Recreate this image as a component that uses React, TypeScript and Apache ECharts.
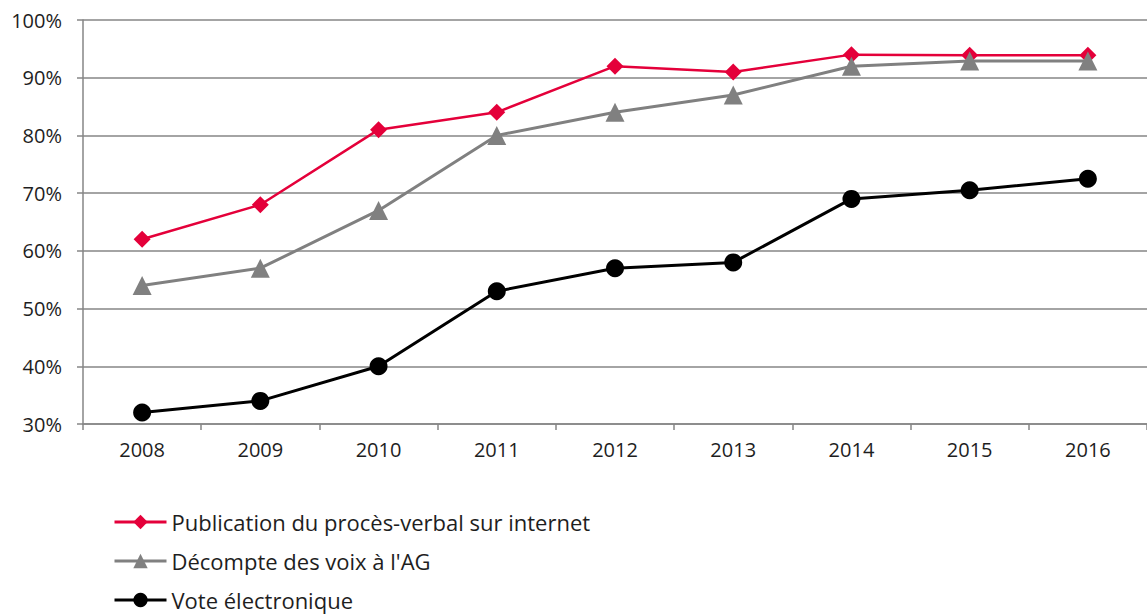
import React, { useEffect, useRef } from "react";
import * as echarts from "echarts";

const years = ["2008", "2009", "2010", "2011", "2012", "2013", "2014", "2015", "2016"];
const publication = [62, 68, 81, 84, 92, 91, 94, 93.9, 93.9];
const decompte = [54, 57, 67, 80, 84, 87, 92, 92.9, 92.9];
const vote = [32, 34, 40, 53, 57, 58, 69, 70.5, 72.5];
const seriesNames = [
  "Publication du procès-verbal sur internet",
  "Décompte des voix à l'AG",
  "Vote électronique",
];

const FONT = "'Open Sans', 'Liberation Sans', Arial, sans-serif";

export default function App() {
  const ref = useRef<HTMLDivElement>(null);
  useEffect(() => {
    if (!ref.current) return;
    const chart = echarts.init(ref.current, undefined, { renderer: "svg" });
    chart.setOption({
      animation: false,
      textStyle: { fontFamily: FONT },
      grid: { left: 83, right: 0, top: 20, bottom: 191, containLabel: false },
      xAxis: {
        type: "category",
        data: years,
        boundaryGap: true,
        axisLine: { lineStyle: { color: "#868686", width: 1.5 } },
        axisTick: { show: true, alignWithLabel: false, length: 6, lineStyle: { color: "#868686", width: 1.5 } },
        axisLabel: { color: "#1e1e1e", fontSize: 20, margin: 15, fontFamily: FONT },
        splitLine: { show: false },
      },
      yAxis: {
        type: "value",
        min: 30,
        max: 100,
        interval: 10,
        axisLine: { show: true, lineStyle: { color: "#868686", width: 1.5 } },
        axisTick: { show: true, length: 6, lineStyle: { color: "#868686", width: 1.5 } },
        axisLabel: { color: "#1e1e1e", fontSize: 20, margin: 21, formatter: "{value}%", fontFamily: FONT },
        splitLine: { show: true, lineStyle: { color: "#868686", width: 1.5 } },
      },
      legend: {
        orient: "vertical",
        left: 113,
        top: 509,
        height: 106,
        padding: 0,
        itemWidth: 52,
        itemHeight: 18,
        itemGap: 13,
        lineStyle: { width: 3 },
        textStyle: { fontSize: 22, lineHeight: 26, color: "#1e1e1e", fontFamily: FONT },
        data: seriesNames,
      },
      series: [
        {
          name: seriesNames[0],
          type: "line",
          data: publication,
          symbol: "diamond",
          symbolSize: 17,
          lineStyle: { color: "#E4003A", width: 2.5 },
          itemStyle: { color: "#E4003A" },
          z: 3,
        },
        {
          name: seriesNames[1],
          type: "line",
          data: decompte,
          symbol: "triangle",
          symbolSize: 19,
          lineStyle: { color: "#808080", width: 3 },
          itemStyle: { color: "#808080" },
          z: 4,
        },
        {
          name: seriesNames[2],
          type: "line",
          data: vote,
          symbol: "circle",
          symbolSize: 18,
          lineStyle: { color: "#000", width: 3 },
          itemStyle: { color: "#000" },
          z: 5,
        },
      ],
    });
    return () => chart.dispose();
  }, []);
  return (
    <div
      ref={ref}
      style={{ position: "absolute", left: 0, top: 0, width: 1147, height: 615, background: "#fff" }}
    />
  );
}
